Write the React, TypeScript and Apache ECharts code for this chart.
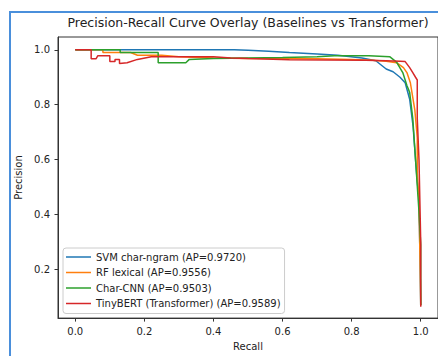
import React, { useEffect, useRef } from "react";
import * as echarts from "echarts";

const seriesNames = [
  "SVM char-ngram (AP=0.9720)",
  "RF lexical (AP=0.9556)",
  "Char-CNN (AP=0.9503)",
  "TinyBERT (Transformer) (AP=0.9589)",
];
const colors = ["#1f77b4", "#ff7f0e", "#2ca02c", "#d62728"];

const svmRecall = [0, 0.46, 0.5, 0.56, 0.62, 0.7, 0.76, 0.83, 0.87, 0.9, 0.92, 0.94, 0.955, 0.968, 0.978, 0.985, 0.99, 0.995, 1.0];
const svmPrecision = [1.0, 1.0, 0.998, 0.995, 0.99, 0.985, 0.98, 0.97, 0.96, 0.93, 0.92, 0.9, 0.88, 0.82, 0.72, 0.6, 0.52, 0.46, 0.07];

const rfRecall = [0, 0.08, 0.08, 0.16, 0.18, 0.25, 0.3, 0.4, 0.5, 0.6, 0.7, 0.8, 0.86, 0.9, 0.93, 0.95, 0.96, 0.97, 0.983, 0.99, 0.99, 0.995, 1.0];
const rfPrecision = [1.0, 1.0, 0.99, 0.99, 0.98, 0.98, 0.975, 0.97, 0.968, 0.968, 0.967, 0.965, 0.962, 0.958, 0.953, 0.935, 0.917, 0.88, 0.78, 0.68, 0.55, 0.45, 0.07];

const cnnRecall = [0, 0.13, 0.13, 0.24, 0.24, 0.32, 0.33, 0.4, 0.5, 0.6, 0.7, 0.75, 0.85, 0.91, 0.93, 0.948, 0.96, 0.968, 0.977, 0.985, 0.995, 1.0, 1.0];
const cnnPrecision = [1.0, 1.0, 0.99, 0.99, 0.953, 0.953, 0.965, 0.968, 0.97, 0.972, 0.975, 0.978, 0.978, 0.975, 0.955, 0.917, 0.87, 0.845, 0.75, 0.6, 0.41, 0.29, 0.07];

const bertRecall = [0, 0.046, 0.046, 0.06, 0.065, 0.1, 0.1, 0.115, 0.115, 0.128, 0.128, 0.15, 0.18, 0.22, 0.3, 0.4, 0.45, 0.5, 0.62, 0.84, 0.9, 0.94, 0.955, 0.968, 0.977, 0.985, 0.99, 0.99, 0.995, 1.0, 1.0];
const bertPrecision = [1.0, 1.0, 0.967, 0.967, 0.978, 0.978, 0.957, 0.957, 0.965, 0.965, 0.95, 0.953, 0.965, 0.975, 0.975, 0.975, 0.97, 0.968, 0.964, 0.962, 0.96, 0.958, 0.957, 0.935, 0.917, 0.9, 0.89, 0.75, 0.6, 0.3, 0.065];

const xTicks = [0, 0.2, 0.4, 0.6, 0.8, 1.0];
const yTicks = [0.2, 0.4, 0.6, 0.8, 1.0];

const recalls = [svmRecall, rfRecall, cnnRecall, bertRecall];
const precisions = [svmPrecision, rfPrecision, cnnPrecision, bertPrecision];

const FONT = "DejaVu Sans";

export default function App() {
  const ref = useRef<HTMLDivElement>(null);
  useEffect(() => {
    if (!ref.current) return;
    const chart = echarts.init(ref.current, undefined, { renderer: "svg" });
    const series = seriesNames.map((name, i) => ({
      name,
      type: "line",
      data: recalls[i].map((r, j) => [r, precisions[i][j]]),
      showSymbol: false,
      symbol: "none",
      lineStyle: { color: colors[i], width: 1.5 },
      itemStyle: { color: colors[i] },
      z: 2 + i,
    }));
    chart.setOption({
      animation: false,
      backgroundColor: "#ffffff",
      textStyle: { fontFamily: FONT },
      grid: {
        left: 58,
        top: 37,
        right: 0,
        bottom: 36,
        show: true,
        borderColor: "#333",
        borderWidth: 1,
        backgroundColor: "transparent",
      },
      xAxis: {
        type: "value",
        min: -0.05,
        max: 1.05,
        name: "Recall",
        nameLocation: "middle",
        nameGap: 22,
        nameTextStyle: { fontSize: 10, color: "#222", fontFamily: FONT },
        axisLine: { show: true, onZero: false, lineStyle: { color: "#333", width: 1 } },
        axisTick: { show: true, length: 3.5, customValues: xTicks, lineStyle: { color: "#333" } },
        axisLabel: {
          customValues: xTicks,
          margin: 8,
          fontSize: 10,
          color: "#222",
          fontFamily: FONT,
          formatter: (v: number) => v.toFixed(1),
        },
        splitLine: { show: false },
      },
      yAxis: {
        type: "value",
        min: 0.0235,
        max: 1.0465,
        name: "Precision",
        nameLocation: "middle",
        nameGap: 30,
        nameTextStyle: { fontSize: 10, color: "#222", fontFamily: FONT },
        axisLine: { show: true, onZero: false, lineStyle: { color: "#333", width: 1 } },
        axisTick: { show: true, length: 3.5, customValues: yTicks, lineStyle: { color: "#333" } },
        axisLabel: {
          customValues: yTicks,
          margin: 8,
          fontSize: 10,
          color: "#222",
          fontFamily: FONT,
          formatter: (v: number) => v.toFixed(1),
        },
        splitLine: { show: false },
      },
      legend: {
        orient: "vertical",
        left: 63,
        top: 248,
        data: seriesNames,
        icon: "rect",
        itemWidth: 25,
        itemHeight: 1.5,
        itemGap: 3.5,
        padding: [3, 4, 4, 3],
        backgroundColor: "rgba(255,255,255,0.8)",
        borderColor: "#cccccc",
        borderWidth: 1,
        borderRadius: 3,
        textStyle: { fontSize: 10, color: "#222", fontFamily: FONT, lineHeight: 12 },
      },
      graphic: [
        {
          type: "text",
          x: 248,
          y: 22,
          style: {
            text: "Precision-Recall Curve Overlay (Baselines vs Transformer)",
            fontSize: 12.5,
            fontFamily: FONT,
            fill: "#222",
            textAlign: "center",
            textVerticalAlign: "middle",
          },
        },
        {
          type: "rect",
          shape: { x: 10, y: 12, width: 500, height: 400 },
          style: { fill: "none", stroke: "#4a8fdb", lineWidth: 2 },
          z: 100,
        },
      ],
      series,
    });
    return () => chart.dispose();
  }, []);
  return (
    <div
      ref={ref}
      style={{ position: "fixed", left: 0, top: 0, width: 438, height: 356 }}
    />
  );
}
